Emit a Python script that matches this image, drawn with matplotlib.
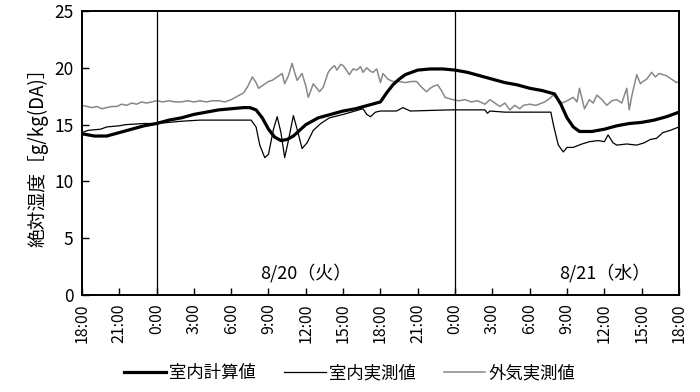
import matplotlib
matplotlib.use("Agg")
import matplotlib.pyplot as plt

plt.rcParams['font.family'] = ['Noto Sans CJK JP', 'DejaVu Sans']

# (hours from 8/19 18:00, g/kg(DA))
calc_pts = [(0, 14.2), (1, 14.0), (2, 14.0), (3, 14.3), (4, 14.6), (5, 14.9), (6, 15.1), (7, 15.4),
            (8, 15.6), (9, 15.9), (10, 16.1), (11, 16.3), (12, 16.4), (13, 16.5), (13.5, 16.5),
            (14, 16.3), (14.5, 15.6), (15, 14.6), (15.5, 13.9), (16, 13.6), (16.5, 13.7), (17, 14.0),
            (17.5, 14.5), (18, 15.0), (19, 15.6), (20, 15.9), (21, 16.2), (22, 16.4), (23, 16.7),
            (24, 17.0), (24.5, 17.8), (25, 18.5), (25.5, 19.0), (26, 19.4), (27, 19.8), (28, 19.9),
            (29, 19.9), (30, 19.8), (31, 19.6), (32, 19.3), (33, 19.0), (34, 18.7), (35, 18.5),
            (36, 18.2), (37, 18.0), (38, 17.7), (38.5, 16.8), (39, 15.6), (39.5, 14.8), (40, 14.4),
            (41, 14.4), (42, 14.6), (43, 14.9), (44, 15.1), (45, 15.2), (46, 15.4), (47, 15.7),
            (48, 16.1)]

meas_pts = [(0, 14.3), (0.5, 14.5), (1.5, 14.6), (2, 14.8), (3, 14.9), (3.5, 15.0), (5, 15.1),
            (6, 15.1), (7, 15.2), (8, 15.3), (9.5, 15.4), (13.6, 15.4), (14.0, 14.8), (14.3, 13.2),
            (14.7, 12.1), (15.0, 12.4), (15.4, 14.6), (15.7, 15.7), (16.0, 14.3), (16.3, 12.1),
            (16.6, 13.6), (17.0, 15.8), (17.3, 14.6), (17.7, 12.9), (18.1, 13.4), (18.6, 14.5),
            (19.2, 15.1), (19.9, 15.6), (21.0, 15.9), (22.6, 16.4), (22.9, 15.9), (23.2, 15.7),
            (23.6, 16.1), (24, 16.2), (25.3, 16.2), (25.8, 16.5), (26.4, 16.2), (29.6, 16.3),
            (32.4, 16.3), (32.6, 16.0), (32.8, 16.2), (34, 16.1), (37.7, 16.1), (37.9, 15.0),
            (38.3, 13.2), (38.7, 12.6), (39.0, 13.0), (39.5, 13.0), (40.2, 13.3), (40.8, 13.5),
            (41.5, 13.6), (42.0, 13.5), (42.3, 14.1), (42.7, 13.4), (43.0, 13.2), (43.8, 13.3),
            (44.6, 13.2), (45.2, 13.4), (45.7, 13.7), (46.2, 13.8), (46.7, 14.3), (47.3, 14.5),
            (48, 14.8)]

out_pts = [(0, 16.7), (0.4, 16.6), (0.8, 16.5), (1.2, 16.6), (1.6, 16.4), (2.0, 16.5), (2.4, 16.6),
           (2.8, 16.6), (3.2, 16.8), (3.6, 16.7), (4.0, 16.9), (4.4, 16.8), (4.8, 17.0), (5.2, 16.9),
           (6, 17.1), (6.5, 17.0), (7, 17.1), (7.5, 17.0), (8, 17.0), (8.5, 17.1), (9, 17.0),
           (9.5, 17.1), (10, 17.0), (10.5, 17.1), (11, 17.1), (11.5, 17.0), (12, 17.2), (12.5, 17.5),
           (13, 17.8), (13.3, 18.3), (13.7, 19.2), (14.0, 18.7), (14.2, 18.2), (14.6, 18.5),
           (15.0, 18.8), (15.3, 18.9), (15.7, 19.2), (16.1, 19.5), (16.3, 18.6), (16.6, 19.3),
           (16.9, 20.4), (17.1, 19.6), (17.3, 18.9), (17.7, 19.5), (18.0, 18.4), (18.2, 17.4),
           (18.6, 18.6), (19.1, 17.9), (19.4, 18.3), (19.8, 19.6), (20.0, 19.9), (20.3, 20.2),
           (20.5, 19.8), (20.8, 20.3), (21.0, 20.2), (21.2, 19.9), (21.5, 19.4), (21.8, 19.9),
           (22.1, 19.8), (22.4, 20.1), (22.6, 19.6), (22.9, 20.0), (23.2, 19.7), (23.4, 19.6),
           (23.7, 19.9), (24, 18.7), (24.2, 19.5), (24.6, 19.0), (25.0, 18.8), (25.5, 18.8),
           (26.0, 18.7), (26.5, 18.8), (26.9, 18.8), (27.3, 18.3), (27.7, 17.9), (28.0, 18.2),
           (28.3, 18.4), (28.6, 18.5), (28.9, 18.0), (29.2, 17.4), (29.8, 17.2), (30.3, 17.1),
           (30.8, 17.2), (31.3, 17.0), (31.8, 17.1), (32.0, 17.0), (32.4, 16.8), (32.8, 17.2),
           (33.2, 16.9), (33.6, 16.6), (34.0, 16.9), (34.4, 16.3), (34.8, 16.7), (35.2, 16.4),
           (35.5, 16.7), (36, 16.8), (36.5, 16.7), (37.2, 17.0), (37.6, 17.3), (37.9, 17.6),
           (38.3, 17.2), (38.6, 16.9), (39.0, 17.1), (39.5, 17.4), (39.8, 17.0), (40.0, 18.2),
           (40.2, 17.3), (40.4, 16.4), (40.8, 17.2), (41.1, 16.9), (41.4, 17.6), (41.8, 17.2),
           (42.2, 16.7), (42.6, 17.1), (43.0, 17.2), (43.4, 16.9), (43.8, 18.2), (44.0, 16.3),
           (44.2, 17.5), (44.6, 19.4), (44.9, 18.6), (45.1, 18.8), (45.4, 19.0), (45.8, 19.6),
           (46.1, 19.2), (46.4, 19.5), (46.7, 19.4), (47.0, 19.3), (47.4, 19.0), (47.8, 18.7),
           (48, 18.8)]

tick_labels = ["18:00", "21:00", "0:00", "3:00", "6:00", "9:00", "12:00", "15:00", "18:00",
               "21:00", "0:00", "3:00", "6:00", "9:00", "12:00", "15:00", "18:00"]
day_lines = [6, 30]
day_labels = ["8/20（火）", "8/21（水）"]
day_label_h = [18, 42]

fig = plt.figure(figsize=(7, 3.92), dpi=100)
ax = fig.add_axes([0.117, 0.247, 0.853, 0.725])

x, y = zip(*calc_pts)
ax.plot(x, y, color='black', lw=2.3, label='室内計算値', zorder=4)
x, y = zip(*meas_pts)
ax.plot(x, y, color='black', lw=0.9, label='室内実測値', zorder=3)
x, y = zip(*out_pts)
ax.plot(x, y, color='#888888', lw=1.1, label='外気実測値', zorder=2)

for d in day_lines:
    ax.axvline(d, color='black', lw=0.9)
for h, t in zip(day_label_h, day_labels):
    ax.text(h, 1.1, t, ha='center', va='bottom', fontsize=13)

ax.set_xlim(0, 48)
ax.set_ylim(0, 25)
ax.set_xticks(range(0, 49, 3))
ax.set_xticklabels(tick_labels, rotation=90, fontsize=11.5)
ax.set_yticks(range(0, 26, 5))
ax.tick_params(axis='y', labelsize=12.5)
ax.tick_params(direction='in', length=5, width=1, pad=6)
for s in ax.spines.values():
    s.set_linewidth(1.4)
ax.set_ylabel('絶対湿度［g/kg(DA)］', fontsize=13.5, labelpad=4)

fig.legend(loc='lower center', bbox_to_anchor=(0.5, -0.015), ncol=3, frameon=False,
           fontsize=12.5, handlelength=2.4, columnspacing=1.6, handletextpad=0.2)

fig.savefig('out.png', dpi=100)
